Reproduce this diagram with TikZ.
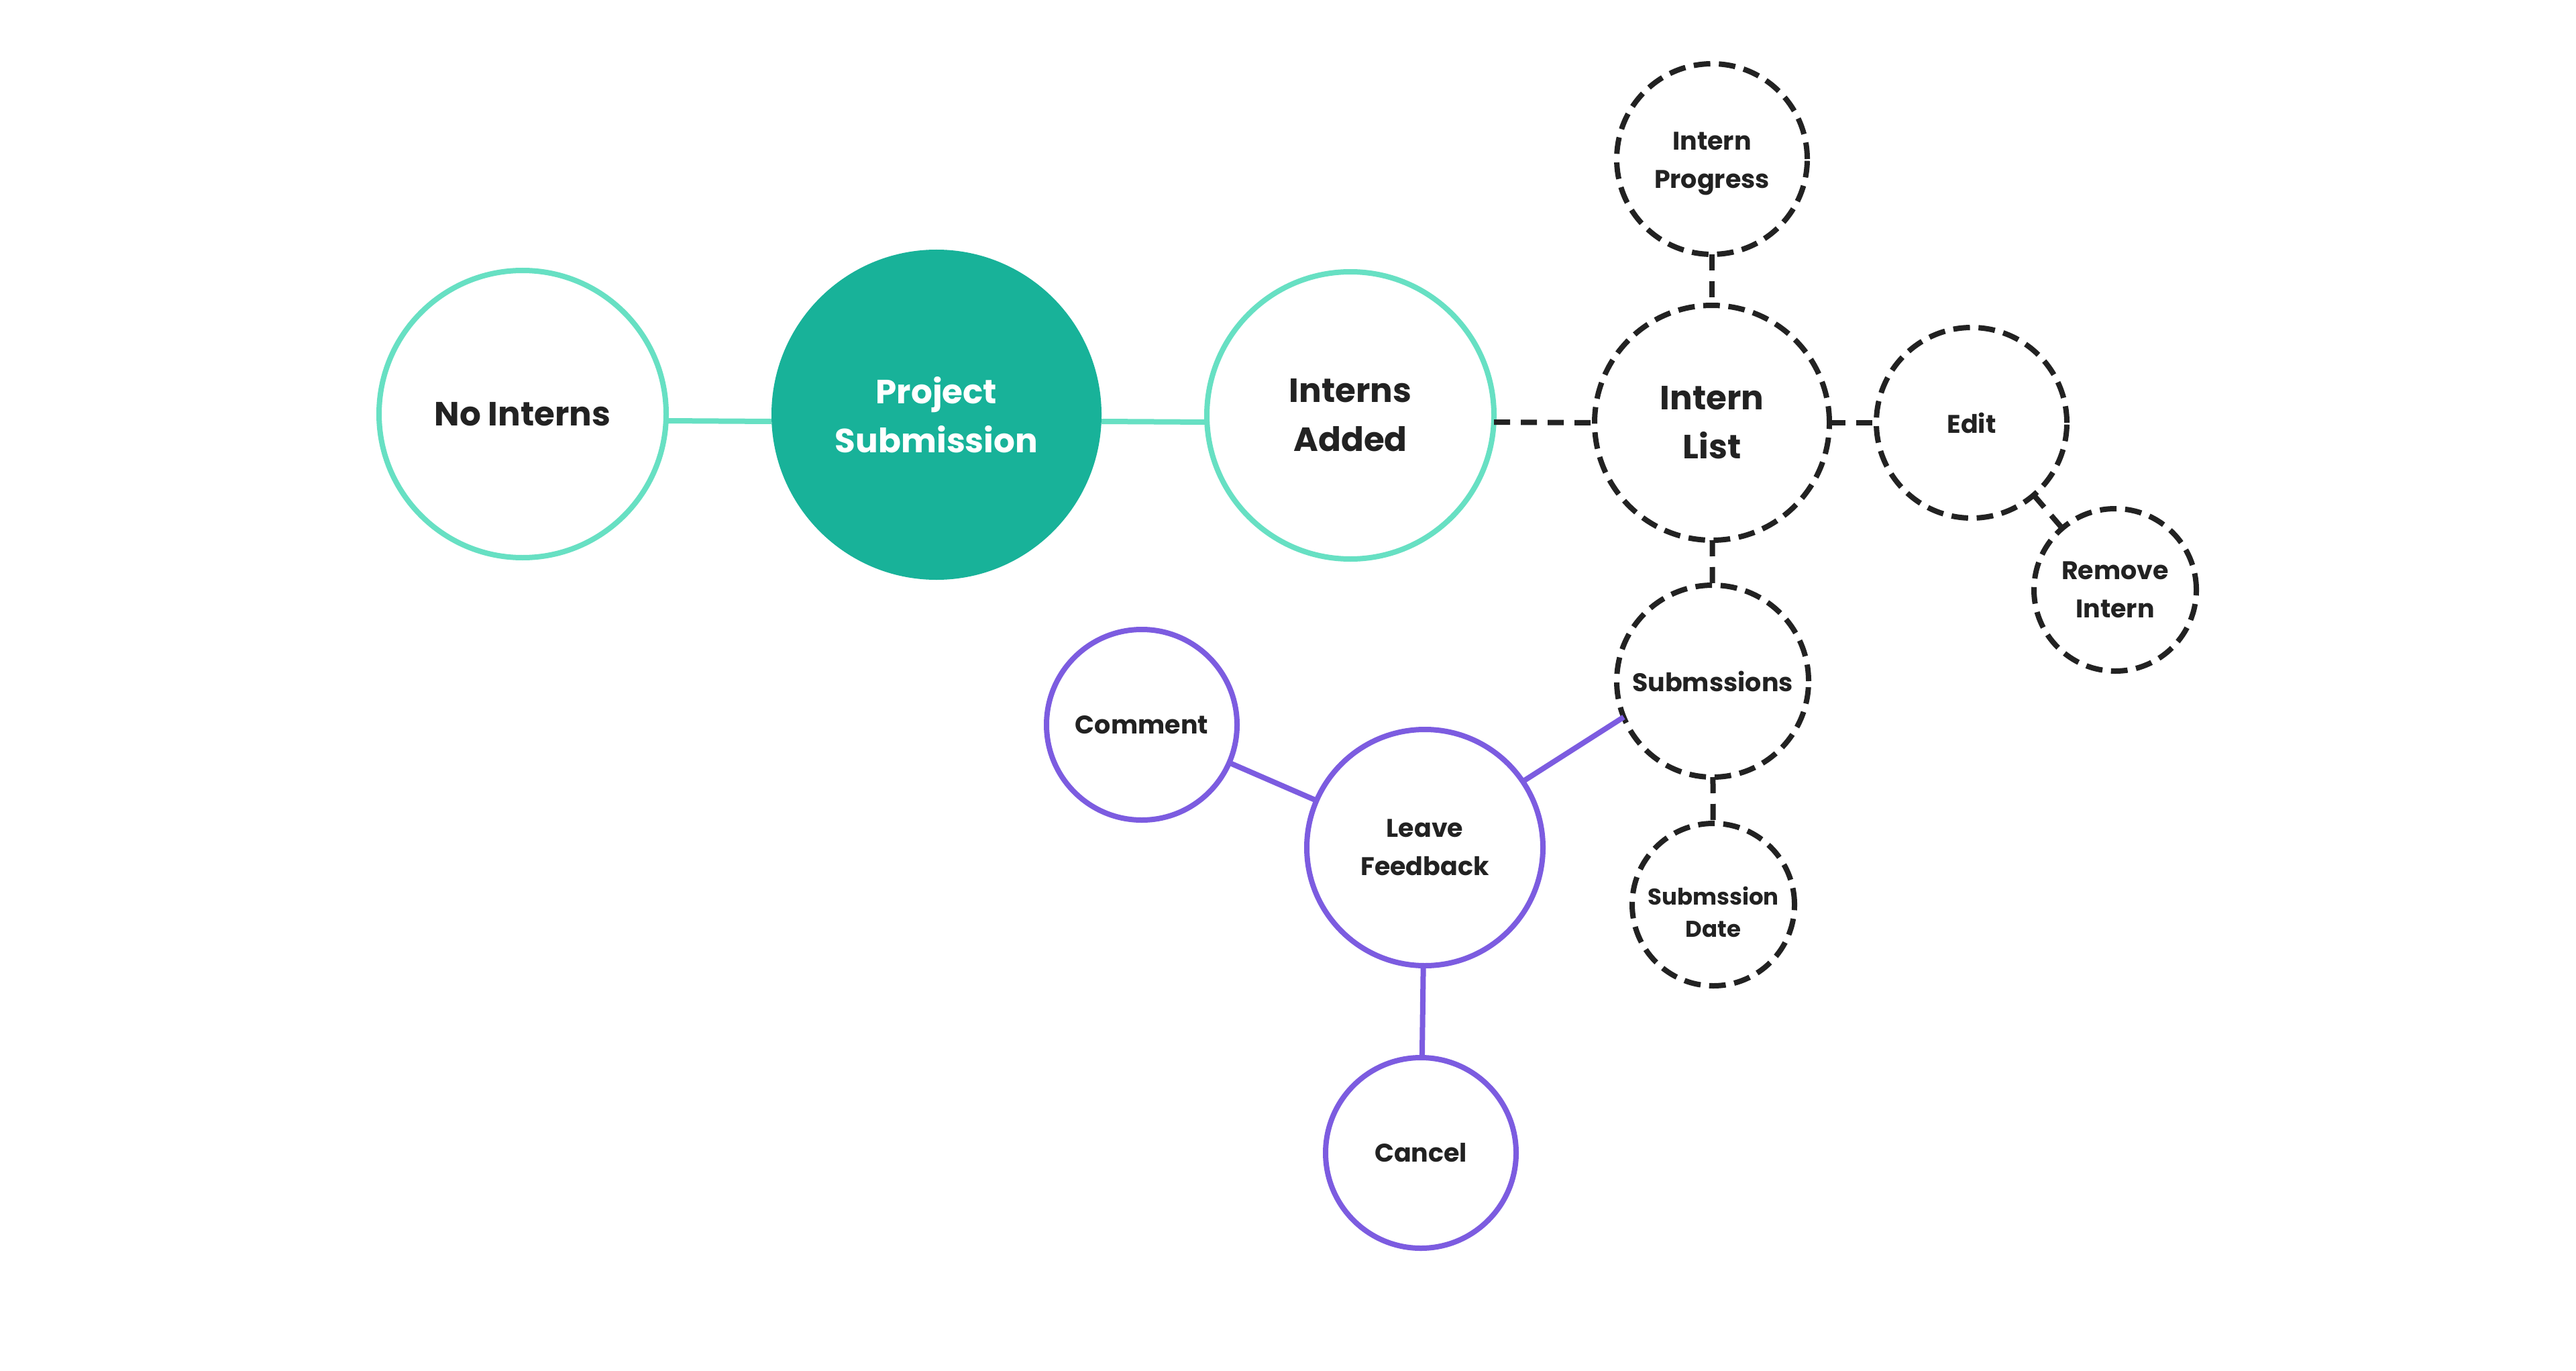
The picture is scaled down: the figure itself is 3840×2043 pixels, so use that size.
\documentclass[tikz,border=0pt]{standalone}
\usepackage{fontspec}
\setmainfont{Poppins}
\definecolor{tealL}{HTML}{67E0C3}
\definecolor{tealF}{HTML}{18B299}
\definecolor{purp}{HTML}{7C5CE0}
\definecolor{ink}{HTML}{222222}
\begin{document}
\begin{tikzpicture}[x=0.25pt,y=-0.25pt,
  base/.style={circle, inner sep=0pt, outer sep=0pt, align=center, text=ink},
  big/.style={font=\fontsize{12.5}{18.25}\selectfont\bfseries},
  small/.style={font=\fontsize{9.5}{14.25}\selectfont\bfseries},
  tiny/.style={font=\fontsize{8.5}{12}\selectfont\bfseries},
  tealc/.style={base, draw=tealL, line width=2pt},
  fillc/.style={base, fill=tealF, text=white},
  dashc/.style={base, draw=ink, line width=2pt, dash pattern=on 6.2pt off 3.2pt},
  purpc/.style={base, draw=purp, line width=2pt},
  lbl/.style={text=ink, align=center, inner sep=0pt},
  tealline/.style={draw=tealL, line width=2pt},
  dashline/.style={draw=ink, line width=2pt, dash pattern=on 6pt off 4pt},
  purpline/.style={draw=purp, line width=2pt},
]
\useasboundingbox (0,0) rectangle (3840,2043);
\fill[white] (0,0) rectangle (3840,2043);

% teal row
\node[tealc, big, minimum size=107pt] (ni) at (779,617) {No Interns};
\node[fillc, big, minimum size=123pt] (ps) at (1396,618) {Project\\Submission};
\node[tealc, big, minimum size=107pt] (ia) at (2013,619) {Interns\\Added};

% dashed group
\node[dashc, big, minimum size=87.5pt] (il) at (2552,630) {Intern\\List};
\node[dashc, small, minimum size=71pt] (ip) at (2552,237) {};
\node[lbl, small] (iplabel) at ([yshift=-1.8pt]ip.center) {Intern\\Progress};
\node[dashc, small, minimum size=71pt] (ed) at (2939,630) {Edit};
\node[dashc, small, minimum size=60.5pt] (ri) at (3153,879) {Remove\\Intern};
\node[dashc, small, minimum size=71.5pt] (sb) at (2553,1015) {Submssions};
\node[dashc, tiny, minimum size=60.5pt] (sd) at (2554,1348) {};
\node[lbl, tiny] (sdlabel) at ([yshift=-2.8pt]sd.center) {Submssion\\Date};

% purple group
\node[purpc, small, minimum size=88pt] (lf) at (2124,1263) {Leave\\Feedback};
\node[purpc, small, minimum size=71pt] (cm) at (1702,1080) {Comment};
\node[purpc, small, minimum size=71pt] (cn) at (2118,1718) {Cancel};

% connectors
\draw[tealline] ([yshift=-2.5pt]ni.east) -- ([yshift=-2.5pt]ps.west);
\draw[tealline] ([yshift=-2.5pt]ps.east) -- ([yshift=-2.5pt]ia.west);
\draw[dashline] ([yshift=-2.5pt]ia.east) -- (il.west);
\draw[dashline] (ip) -- (il);
\draw[dashline] (il) -- (ed);
\draw[dashline] (ed) -- (ri);
\draw[dashline] (il) -- (sb);
\draw[dashline] (sb) -- (sd);
\draw[purpline] (lf.34) -- (sb.202);
\draw[purpline] (cm) -- (lf);
\draw[purpline] (lf) -- (cn);
\end{tikzpicture}
\end{document}
